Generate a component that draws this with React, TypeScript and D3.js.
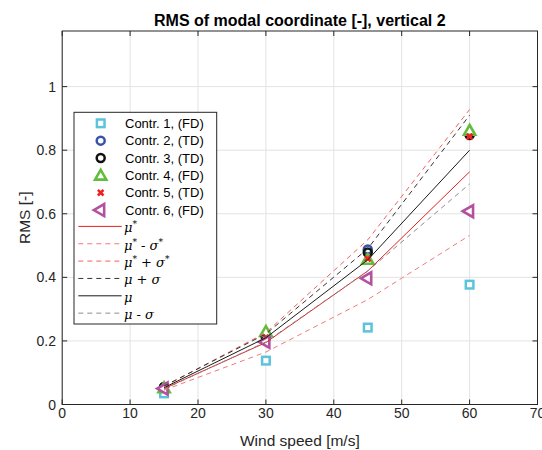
import React from "react";
import * as d3 from "d3";

const speeds = [15, 30, 45, 60];

const contr1 = [0.035, 0.138, 0.242, 0.377];
const contr2 = [0.055, 0.212, 0.488, 0.85];
const contr3 = [0.055, 0.21, 0.478, 0.848];
const contr4 = [0.052, 0.229, 0.456, 0.862];
const contr5 = [0.05, 0.21, 0.459, 0.843];
const contr6 = [0.05, 0.197, 0.397, 0.608];

const muStar = [0.05, 0.195, 0.42, 0.732];
const muStarMinus = [0.045, 0.165, 0.33, 0.532];
const muStarPlus = [0.057, 0.226, 0.518, 0.928];
const muPlus = [0.058, 0.222, 0.49, 0.91];
const mu = [0.053, 0.21, 0.455, 0.8];
const muMinus = [0.048, 0.197, 0.42, 0.694];

const xTicks = [0, 10, 20, 30, 40, 50, 60, 70];
const yTicks = [0, 0.2, 0.4, 0.6, 0.8, 1];

const W = 542;
const H = 450;
const left = 62.2;
const right = 537.5;
const top = 31;
const bottom = 404.5;

const axisColor = "#262626";
const font = "Arial, 'Liberation Sans', Helvetica, sans-serif";

type MarkerKind = "square" | "circle" | "triangle" | "x" | "left";

const markerSeries: { name: string; values: number[]; kind: MarkerKind; color: string }[] = [
  { name: "Contr. 1, (FD)", values: contr1, kind: "square", color: "#5cc3da" },
  { name: "Contr. 2, (TD)", values: contr2, kind: "circle", color: "#3553a8" },
  { name: "Contr. 3, (TD)", values: contr3, kind: "circle", color: "#111111" },
  { name: "Contr. 4, (FD)", values: contr4, kind: "triangle", color: "#62bd3c" },
  { name: "Contr. 5, (TD)", values: contr5, kind: "x", color: "#ee2222" },
  { name: "Contr. 6, (FD)", values: contr6, kind: "left", color: "#b4519e" },
];

const lineSeries: { label: string[]; values: number[]; color: string; dash?: string; width: number }[] = [
  { label: ["μ", "*", ""], values: muStar, color: "#e52020", width: 1 },
  { label: ["μ", "*", " - σ", "*"], values: muStarMinus, color: "#f07a7a", dash: "5,4", width: 1 },
  { label: ["μ", "*", " + σ", "*"], values: muStarPlus, color: "#f46060", dash: "5,4", width: 1 },
  { label: ["μ + σ"], values: muPlus, color: "#333333", dash: "5,4", width: 1 },
  { label: ["μ"], values: mu, color: "#1a1a1a", width: 1 },
  { label: ["μ - σ"], values: muMinus, color: "#8c8c8c", dash: "5,4", width: 1 },
];

const Marker = ({ kind, color, x, y }: { kind: MarkerKind; color: string; x: number; y: number }) => {
  if (kind === "square") {
    return <rect x={x - 3.8} y={y - 3.8} width={7.6} height={7.6} fill="#ffffff" fillOpacity={0.7} stroke={color} strokeWidth={2.5} />;
  }
  if (kind === "circle") {
    return <circle cx={x} cy={y} r={4} fill="none" stroke={color} strokeWidth={2.5} />;
  }
  if (kind === "triangle") {
    const p = d3.symbol().type(d3.symbolTriangle).size(55)();
    return <path d={p || ""} transform={`translate(${x},${y + 1})`} fill="#ffffff" stroke={color} strokeWidth={2.6} />;
  }
  if (kind === "left") {
    const p = d3.symbol().type(d3.symbolTriangle).size(62)();
    return <path d={p || ""} transform={`translate(${x},${y}) rotate(-90)`} fill="#ffffff" stroke={color} strokeWidth={2.6} />;
  }
  const s = 2.8;
  return (
    <path
      d={`M${x - s},${y - s}L${x + s},${y + s}M${x - s},${y + s}L${x + s},${y - s}`}
      stroke={color}
      strokeWidth={2.6}
      fill="none"
    />
  );
};

const App = () => {
  const x = d3.scaleLinear().domain([0, 70]).range([left, right]);
  const y = d3.scaleLinear().domain([0, 1.175]).range([bottom, top]);

  const line = d3
    .line<number>()
    .x((_, i) => x(speeds[i]))
    .y((d) => y(d));

  const legX = 74;
  const legY = 112.3;
  const legW = 142.7;
  const legH = 211.7;
  const rowH = 17.35;
  const row0 = 123.3;

  return (
    <svg width={W} height={H} style={{ position: "absolute", left: 0, top: 0, background: "#fff" }} fontFamily={font}>
      <rect x={0} y={0} width={W} height={H} fill="#ffffff" />
      {/* grid */}
      {xTicks.map((t) => (
        <line key={"gx" + t} x1={x(t)} x2={x(t)} y1={top} y2={bottom} stroke="#e3e3e3" strokeWidth={1} />
      ))}
      {yTicks.map((t) => (
        <line key={"gy" + t} x1={left} x2={right} y1={y(t)} y2={y(t)} stroke="#e3e3e3" strokeWidth={1} />
      ))}

      {/* markers */}
      {markerSeries.map((s) =>
        s.values.map((v, i) => <Marker key={s.name + i} kind={s.kind} color={s.color} x={x(speeds[i])} y={y(v)} />)
      )}

      {/* lines */}
      {lineSeries.map((s, k) => (
        <path key={"l" + k} d={line(s.values) || ""} fill="none" stroke={s.color} strokeWidth={s.width} strokeDasharray={s.dash} />
      ))}

      {/* axes box */}
      <rect x={left} y={top} width={right - left} height={bottom - top} fill="none" stroke={axisColor} strokeWidth={1} />
      {xTicks.map((t) => (
        <g key={"tx" + t}>
          <line x1={x(t)} x2={x(t)} y1={bottom} y2={bottom - 5} stroke={axisColor} />
          <line x1={x(t)} x2={x(t)} y1={top} y2={top + 5} stroke={axisColor} />
          <text x={x(t)} y={418} textAnchor="middle" fontSize={14} fill={axisColor}>
            {t}
          </text>
        </g>
      ))}
      {yTicks.map((t) => (
        <g key={"ty" + t}>
          <line x1={left} x2={left + 5} y1={y(t)} y2={y(t)} stroke={axisColor} />
          <line x1={right} x2={right - 5} y1={y(t)} y2={y(t)} stroke={axisColor} />
          <text x={56} y={y(t) + 5} textAnchor="end" fontSize={14} fill={axisColor}>
            {d3.format("~g")(t)}
          </text>
        </g>
      ))}

      <text x={(left + right) / 2} y={26} textAnchor="middle" fontSize={16} fontWeight="bold" fill="#000">
        RMS of modal coordinate [-], vertical 2
      </text>
      <text x={(left + right) / 2} y={445.5} textAnchor="middle" fontSize={15.5} fill={axisColor}>
        Wind speed [m/s]
      </text>
      <text transform={`translate(30,${(top + bottom) / 2}) rotate(-90)`} textAnchor="middle" fontSize={15.5} fill={axisColor}>
        RMS [-]
      </text>

      {/* legend */}
      <rect x={legX} y={legY} width={legW} height={legH} fill="#ffffff" stroke={axisColor} strokeWidth={1} />
      {markerSeries.map((s, i) => {
        const cy = row0 + i * rowH;
        return (
          <g key={"lg" + i}>
            <Marker kind={s.kind} color={s.color} x={100.7} y={cy} />
            <text x={125} y={cy + 4.5} fontSize={13} fill="#000">
              {s.name}
            </text>
          </g>
        );
      })}
      {lineSeries.map((s, i) => {
        const cy = row0 + (i + 6) * rowH - 1;
        return (
          <g key={"ll" + i}>
            <line x1={78.3} x2={121.7} y1={cy} y2={cy} stroke={s.color} strokeWidth={s.width} strokeDasharray={s.dash} />
            <text x={124} y={cy + 6} fontSize={13} fill="#000" fontFamily="'DejaVu Serif', 'Liberation Serif', serif" fontStyle="italic">
              {s.label.map((part, j) =>
                part === "*" ? (
                  <tspan key={j} fontSize={9} dy={-5}>
                    *
                  </tspan>
                ) : j > 0 && s.label[j - 1] === "*" ? (
                  <tspan key={j} dy={5}>
                    {part}
                  </tspan>
                ) : (
                  <tspan key={j}>{part}</tspan>
                )
              )}
            </text>
          </g>
        );
      })}
    </svg>
  );
};

export default App;
